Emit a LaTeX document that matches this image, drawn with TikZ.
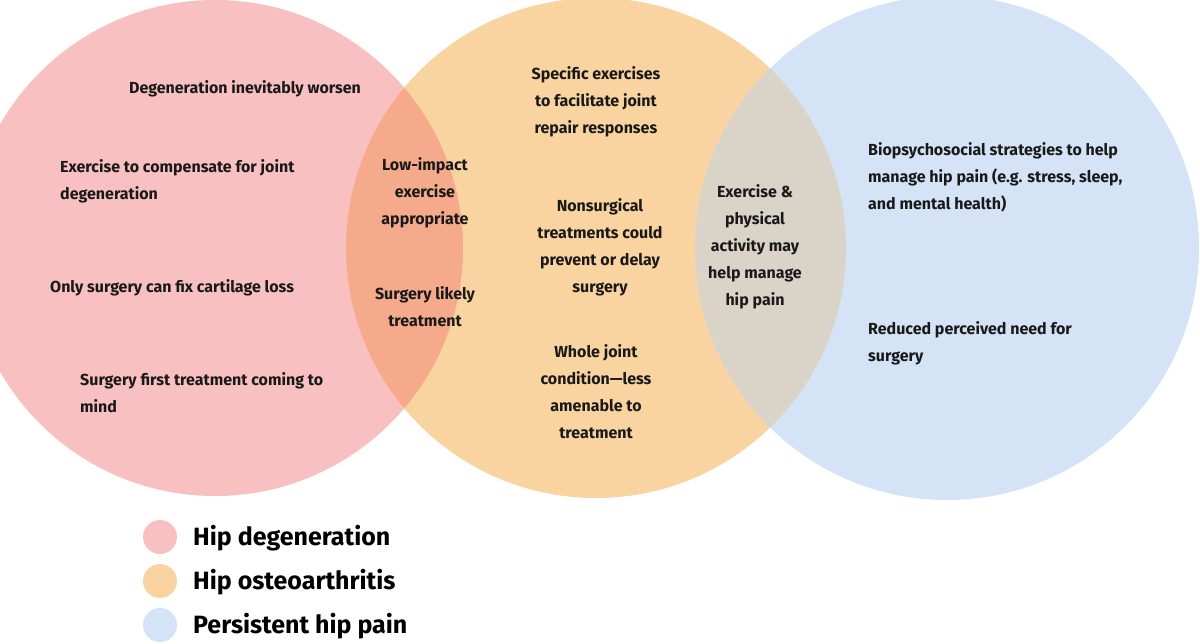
\documentclass[tikz,border=0pt]{standalone}
\usepackage{fontspec}
\setmainfont{Fira Sans}
\definecolor{cpink}{HTML}{F8C0C0}
\definecolor{corange}{HTML}{FAD4A0}
\definecolor{cblue}{HTML}{D4E3F5}
\definecolor{cpo}{HTML}{F5AA8C}
\definecolor{cob}{HTML}{D9D3C8}
\tikzset{txt/.style={font=\fontsize{16}{27}\selectfont\bfseries, text=black!90, inner sep=0pt},
 ctxt/.style={txt, align=center}, ltxt/.style={txt, align=left, anchor=west},
 leg/.style={font=\fontsize{25}{30}\selectfont\bfseries, anchor=west, inner sep=0pt}}
\begin{document}
\begin{tikzpicture}[x=1pt,y=-1pt]
\useasboundingbox (0,0) rectangle (1200,644);
\fill[white] (0,0) rectangle (1200,644);
\fill[cpink] (215,248) circle (248);
\fill[corange] (596,248) circle (250);
\fill[cblue] (947,248) circle (252);
\begin{scope}\clip (215,248) circle (248); \fill[cpo] (596,248) circle (250);\end{scope}
\begin{scope}\clip (596,248) circle (250); \fill[cob] (947,248) circle (252);\end{scope}
\node[ctxt] (a1) at (245,89) {Degeneration inevitably worsen};
\node[ltxt] (a2) at (60,181) {Exercise to compensate for joint\\degeneration};
\node[ltxt] (a3) at (50,288) {Only surgery can fix cartilage loss};
\node[ltxt] (a4) at (80,393) {Surgery first treatment coming to\\mind};
\node[ctxt] (b1) at (425,193) {Low-impact\\exercise\\appropriate};
\node[ctxt] (b2) at (425,307) {Surgery likely\\treatment};
\node[ctxt] (c1) at (596,102) {Specific exercises\\to facilitate joint\\repair responses};
\node[ctxt] (c2) at (600,247) {Nonsurgical\\treatments could\\prevent or delay\\surgery};
\node[ctxt] (c3) at (596,392) {Whole joint\\condition—less\\amenable to\\treatment};
\node[ctxt] (d1) at (755,247) {Exercise \&\\physical\\activity may\\help manage\\hip pain};
\node[ltxt] (e1) at (868,177) {Biopsychosocial strategies to help\\manage hip pain (e.g. stress, sleep,\\and mental health)};
\node[ltxt] (e2) at (868,343) {Reduced perceived need for\\surgery};
\fill[cpink] (160,537) circle (17);
\fill[corange] (160,581) circle (17);
\fill[cblue] (160,625) circle (17);
\node[leg] (l1) at (193,538) {Hip degeneration};
\node[leg] (l2) at (193,582) {Hip osteoarthritis};
\node[leg] (l3) at (193,626) {Persistent hip pain};
\end{tikzpicture}
\end{document}
